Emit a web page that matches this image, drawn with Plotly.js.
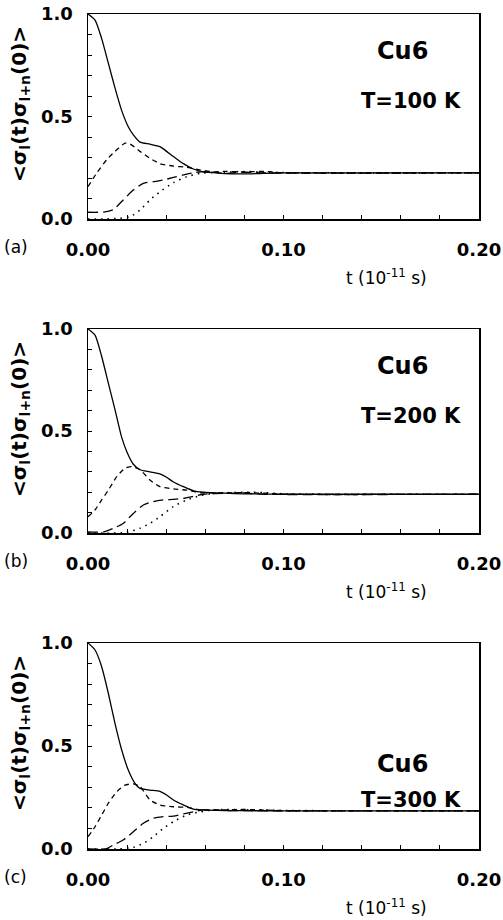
<!DOCTYPE html>
<html>
<head>
<meta charset="utf-8">
<script src="https://cdn.plot.ly/plotly-3.0.1.min.js"></script>
<style>html,body{margin:0;padding:0;background:#fff;}#chart{width:503px;height:920px;}</style>
</head>
<body>
<div id="chart"></div>
<script>
// ---------- data ----------
var panelLetters = ['(a)', '(b)', '(c)'];
var temperatures = ['T=100 K', 'T=200 K', 'T=300 K'];
var clusterName = 'Cu6';
var xTickVals = [0, 0.1, 0.2];
var yTickVals = [0, 0.5, 1.0];

// Panel (a) T=100 K
var tA_solid = [0, 0.0036, 0.007, 0.0104, 0.0138, 0.0172, 0.0206, 0.0232, 0.0266, 0.0317, 0.0368, 0.0402, 0.0437, 0.0488, 0.0539, 0.059, 0.0641, 0.07, 0.08, 0.09, 0.1, 0.2];
var yA_solid = [1.0, 0.97, 0.88, 0.76, 0.64, 0.53, 0.45, 0.41, 0.375, 0.365, 0.353, 0.33, 0.305, 0.27, 0.244, 0.23, 0.226, 0.221, 0.22, 0.223, 0.225, 0.225];
var tA_dash = [0, 0.0044, 0.0095, 0.0138, 0.019, 0.0215, 0.0266, 0.0317, 0.0368, 0.0437, 0.0505, 0.0573, 0.0641, 0.07, 0.08, 0.09, 0.1, 0.2];
var yA_dash = [0.158, 0.223, 0.288, 0.33, 0.37, 0.366, 0.33, 0.296, 0.27, 0.258, 0.252, 0.239, 0.23, 0.232, 0.23, 0.232, 0.226, 0.225];
var tA_long = [0, 0.008, 0.013, 0.018, 0.0232, 0.0283, 0.0334, 0.0385, 0.0437, 0.0488, 0.0539, 0.059, 0.07, 0.08, 0.09, 0.2];
var yA_long = [0.033, 0.034, 0.046, 0.093, 0.141, 0.174, 0.182, 0.19, 0.203, 0.215, 0.226, 0.231, 0.223, 0.228, 0.225, 0.225];
var tA_dot = [0, 0.008, 0.0155, 0.0215, 0.0266, 0.0317, 0.0368, 0.0437, 0.0505, 0.0573, 0.0641, 0.07, 0.08, 0.09, 0.1, 0.2];
var yA_dot = [0.0, 0.0, 0.003, 0.011, 0.044, 0.093, 0.133, 0.177, 0.206, 0.223, 0.226, 0.228, 0.232, 0.228, 0.226, 0.225];

// Panel (b) T=200 K
var tB_solid = [0, 0.0036, 0.007, 0.0104, 0.0138, 0.0172, 0.0198, 0.0232, 0.0266, 0.0317, 0.0368, 0.0402, 0.0437, 0.0488, 0.0539, 0.059, 0.07, 0.08, 0.09, 0.1, 0.2];
var yB_solid = [1.0, 0.97, 0.865, 0.735, 0.605, 0.47, 0.40, 0.337, 0.31, 0.30, 0.29, 0.273, 0.25, 0.227, 0.207, 0.20, 0.195, 0.192, 0.191, 0.19, 0.19];
var tB_dash = [0, 0.0036, 0.007, 0.0104, 0.0147, 0.0189, 0.0223, 0.0266, 0.0317, 0.0368, 0.0437, 0.0505, 0.0573, 0.07, 0.08, 0.09, 0.1, 0.2];
var yB_dash = [0.08, 0.113, 0.162, 0.21, 0.276, 0.317, 0.325, 0.31, 0.26, 0.227, 0.216, 0.21, 0.198, 0.196, 0.198, 0.195, 0.19, 0.19];
var tB_long = [0, 0.008, 0.013, 0.018, 0.0232, 0.0283, 0.0334, 0.0385, 0.0437, 0.0488, 0.0539, 0.059, 0.07, 0.08, 0.09, 0.2];
var yB_long = [0.005, 0.005, 0.023, 0.047, 0.096, 0.137, 0.154, 0.162, 0.165, 0.17, 0.18, 0.19, 0.194, 0.196, 0.19, 0.19];
var tB_dot = [0, 0.01, 0.0198, 0.0266, 0.0317, 0.0368, 0.0437, 0.0505, 0.0573, 0.0641, 0.07, 0.08, 0.09, 0.1, 0.2];
var yB_dot = [0, 0, 0.003, 0.023, 0.047, 0.08, 0.13, 0.162, 0.183, 0.194, 0.197, 0.2, 0.198, 0.192, 0.19];

// Panel (c) T=300 K
var tC_solid = [0, 0.0036, 0.007, 0.0104, 0.0138, 0.0172, 0.0206, 0.024, 0.0266, 0.0317, 0.0368, 0.0402, 0.0437, 0.0488, 0.0539, 0.059, 0.07, 0.08, 0.1, 0.2];
var yC_solid = [1.0, 0.966, 0.885, 0.756, 0.61, 0.482, 0.383, 0.319, 0.294, 0.286, 0.28, 0.262, 0.238, 0.214, 0.194, 0.19, 0.187, 0.186, 0.185, 0.185];
var tC_dash = [0, 0.0036, 0.007, 0.0104, 0.0147, 0.0189, 0.0232, 0.0266, 0.0317, 0.0368, 0.0437, 0.0505, 0.0573, 0.07, 0.08, 0.09, 0.1, 0.2];
var yC_dash = [0.06, 0.108, 0.165, 0.222, 0.278, 0.31, 0.316, 0.303, 0.238, 0.214, 0.205, 0.202, 0.19, 0.19, 0.192, 0.189, 0.186, 0.185];
var tC_long = [0, 0.0095, 0.013, 0.018, 0.0232, 0.0283, 0.0334, 0.0385, 0.0437, 0.0488, 0.0539, 0.059, 0.07, 0.08, 0.2];
var yC_long = [0, 0.002, 0.02, 0.044, 0.084, 0.125, 0.149, 0.157, 0.16, 0.17, 0.18, 0.19, 0.187, 0.186, 0.185];
var tC_dot = [0, 0.015, 0.0232, 0.0283, 0.0334, 0.0385, 0.0437, 0.0505, 0.0573, 0.0641, 0.07, 0.08, 0.09, 0.1, 0.2];
var yC_dot = [0, 0, 0.008, 0.027, 0.06, 0.1, 0.133, 0.165, 0.18, 0.19, 0.192, 0.19, 0.19, 0.187, 0.185];

// ---------- figure ----------
var W = 503, H = 920;
var FONT = 'DejaVu Sans, Liberation Sans, Arial, sans-serif';
var plotLeft = 88, plotRight = 479;
var panelTops = [14, 329, 643];
var panelBottoms = [219, 533, 849];
var dashes = ['solid', '5px,4px', '10px,5px', '1.5px,5px'];

var panels = [
  [[tA_solid, yA_solid], [tA_dash, yA_dash], [tA_long, yA_long], [tA_dot, yA_dot]],
  [[tB_solid, yB_solid], [tB_dash, yB_dash], [tB_long, yB_long], [tB_dot, yB_dot]],
  [[tC_solid, yC_solid], [tC_dash, yC_dash], [tC_long, yC_long], [tC_dot, yC_dot]]
];
var labelY = [[0.82, 0.575], [0.82, 0.575], [0.415, 0.24]];

var traces = [];
var layout = {
  width: W, height: H,
  margin: {l: 0, r: 0, t: 0, b: 0},
  paper_bgcolor: '#fff', plot_bgcolor: '#fff',
  showlegend: false,
  font: {family: FONT, color: '#000'},
  annotations: []
};

panels.forEach(function (curves, p) {
  var sfx = p === 0 ? '' : String(p + 1);
  curves.forEach(function (c, k) {
    traces.push({
      x: c[0], y: c[1], xaxis: 'x' + sfx, yaxis: 'y' + sfx,
      mode: 'lines', type: 'scatter', hoverinfo: 'skip',
      line: {color: '#000', width: k === 3 ? 1.6 : 1.3, dash: dashes[k], shape: 'spline', smoothing: 0.6}
    });
  });
  var yd = [1 - panelBottoms[p] / H, 1 - panelTops[p] / H];
  layout['xaxis' + sfx] = {
    domain: [plotLeft / W, plotRight / W], anchor: 'y' + sfx,
    range: [0, 0.2], tickvals: xTickVals, tickformat: '.2f',
    ticks: 'inside', ticklen: 4, tickwidth: 1, tickcolor: '#000',
    minor: {dtick: 0.02, tick0: 0, ticks: 'inside', ticklen: 4, tickwidth: 1, tickcolor: '#000', showgrid: false},
    showline: true, mirror: true, linecolor: '#000', linewidth: 1.5,
    showgrid: false, zeroline: false, fixedrange: true,
    ticklabelstandoff: 14,
    tickfont: {family: FONT, size: 18, color: '#000', weight: 'bold'}
  };
  layout['yaxis' + sfx] = {
    domain: yd, anchor: 'x' + sfx,
    range: [0, 1], tickvals: yTickVals, tickformat: '.1f',
    ticks: 'inside', ticklen: 4, tickwidth: 1, tickcolor: '#000',
    minor: {dtick: 0.1, tick0: 0, ticks: 'inside', ticklen: 4, tickwidth: 1, tickcolor: '#000', showgrid: false},
    showline: true, mirror: true, linecolor: '#000', linewidth: 1.5,
    showgrid: false, zeroline: false, fixedrange: true,
    ticklabelstandoff: 10,
    tickfont: {family: FONT, size: 18, color: '#000', weight: 'bold'}
  };
  var bot = panelBottoms[p], top = panelTops[p];
  layout.annotations.push(
    {xref: 'paper', yref: 'paper', x: 16 / W, y: 1 - (bot + 28) / H, text: panelLetters[p], showarrow: false,
     xanchor: 'center', yanchor: 'middle', font: {family: FONT, size: 17, color: '#000'}},
    {xref: 'paper', yref: 'paper', x: 386 / W, y: 1 - (bot + 58) / H, text: 't (10<sup>-11</sup> s)', showarrow: false,
     xanchor: 'center', yanchor: 'middle', font: {family: FONT, size: 17, color: '#000'}},
    {xref: 'paper', yref: 'paper', x: 20 / W, y: 1 - (top + 90) / H, textangle: -90,
     text: '&lt;σ<sub>l</sub>(t)σ<sub>l+n</sub>(0)&gt;', showarrow: false,
     xanchor: 'center', yanchor: 'middle', font: {family: FONT, size: 20, color: '#000', weight: 'bold'}},
    {xref: 'x' + sfx, yref: 'y' + sfx, x: 0.161, y: labelY[p][0], text: clusterName, showarrow: false,
     xanchor: 'center', yanchor: 'middle', font: {family: FONT, size: 24, color: '#000', weight: 'bold'}},
    {xref: 'x' + sfx, yref: 'y' + sfx, x: 0.165, y: labelY[p][1], text: temperatures[p], showarrow: false,
     xanchor: 'center', yanchor: 'middle', font: {family: FONT, size: 21, color: '#000', weight: 'bold'}}
  );
});

Plotly.newPlot('chart', traces, layout, {staticPlot: true, displayModeBar: false});
</script>
</body>
</html>
